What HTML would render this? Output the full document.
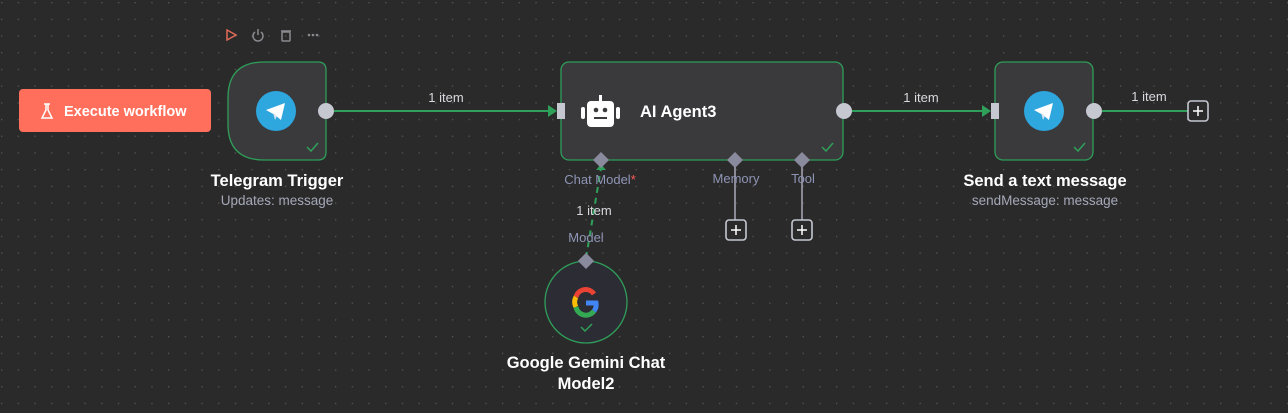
<!DOCTYPE html>
<html><head><meta charset="utf-8"><style>
html,body{margin:0;padding:0;background:#2a2a2a;width:1288px;height:413px;overflow:hidden}
svg{display:block;font-family:"Liberation Sans",sans-serif}
</style></head><body>
<svg width="1288" height="413" viewBox="0 0 1288 413" xmlns="http://www.w3.org/2000/svg">
<defs>
<pattern id="dots" x="1" y="2" width="16.7" height="16.7" patternUnits="userSpaceOnUse">
<rect x="0" y="0" width="1.3" height="1.3" fill="#555"/>
</pattern>
<g id="tg">
<circle cx="0" cy="0" r="20" fill="#2ea6de"/>
<path d="M-10,-1 L9,-8 L5,9 L-1,4 Z" fill="#fff"/>
<path d="M-3,2 L-1,9 L1,5 Z" fill="#d5e3ee"/>
</g>
</defs>
<rect width="1288" height="413" fill="#2a2a2a"/>
<rect width="1288" height="413" fill="url(#dots)"/>

<!-- toolbar -->
<path d="M227,30 L236,35 L227,40 Z" fill="none" stroke="#e06a58" stroke-width="1.5"/>
<g stroke="#8a8a90" stroke-width="1.5" fill="none">
<path d="M255,32 A5,5 0 1 0 261,32"/><line x1="258" y1="29" x2="258" y2="35"/>
<rect x="282" y="32" width="8" height="9" rx="1"/><line x1="281" y1="31" x2="291" y2="31"/>
</g>
<g fill="#8a8a90"><circle cx="309" cy="35" r="1.3"/><circle cx="313" cy="35" r="1.3"/><circle cx="317" cy="35" r="1.3"/></g>

<!-- execute button -->
<rect x="19" y="89" width="192" height="43" rx="4" fill="#ff6f5c"/>
<path d="M46,104 L46,110 L42,118 L52,118 L48,110 L48,104 M44,104 L50,104" fill="none" stroke="#fff" stroke-width="1.5"/>
<text x="64" y="116" fill="#fff" font-size="14.5" font-weight="bold">Execute workflow</text>

<!-- connections -->
<g stroke="#2fa05a" stroke-width="2" fill="none">
<line x1="334" y1="111" x2="550" y2="111"/>
<line x1="852" y1="111" x2="984" y2="111"/>
<line x1="1102" y1="111" x2="1188" y2="111"/>
<path d="M586,258 L601,168" stroke-dasharray="6,5"/>
</g>
<path d="M548,105 L557,111 L548,117 Z" fill="#2fa05a"/>
<path d="M982,105 L991,111 L982,117 Z" fill="#2fa05a"/>
<path d="M596,170 L601,164 L606,170 Z" fill="#2fa05a"/>
<g fill="#d8d8de" font-size="13" text-anchor="middle">
<text x="446" y="102">1 item</text>
<text x="921" y="102">1 item</text>
<text x="1149" y="101">1 item</text>
<text x="594" y="215">1 item</text>
</g>

<!-- Telegram trigger -->
<path d="M264,62 L318,62 Q326,62 326,70 L326,152 Q326,160 318,160 L264,160 Q228,160 228,124 L228,98 Q228,62 264,62 Z" fill="#3a3a3c" stroke="#2f9e5a" stroke-width="1.3"/>
<use href="#tg" x="276" y="111"/>
<path d="M307,147 L311,151 L318,143" stroke="#2fa05a" stroke-width="1.5" fill="none"/>
<circle cx="326" cy="111" r="8" fill="#c5c7d1"/>
<text x="277" y="186" fill="#fff" font-size="16.5" font-weight="bold" text-anchor="middle">Telegram Trigger</text>
<text x="277" y="205" fill="#a5a8b8" font-size="13.5" text-anchor="middle">Updates: message</text>

<!-- AI agent -->
<rect x="561" y="62" width="282" height="98" rx="8" fill="#3a3a3c" stroke="#2f9e5a" stroke-width="1.3"/>
<rect x="557" y="103" width="8" height="16" fill="#c5c7d1"/>
<circle cx="844" cy="111" r="8" fill="#c5c7d1"/>
<g fill="#fff">
<rect x="587" y="101" width="27" height="26" rx="4"/>
<rect x="581" y="107" width="4" height="12" rx="2"/>
<rect x="616" y="107" width="4" height="12" rx="2"/>
<rect x="599" y="95" width="3" height="6"/>
</g>
<g fill="#3a3a3c"><circle cx="596" cy="110" r="2.3"/><circle cx="605" cy="110" r="2.3"/><rect x="594" y="117" width="13" height="2"/></g>
<text x="640" y="117" fill="#fff" font-size="16.5" font-weight="bold">AI Agent3</text>
<path d="M822,147 L826,151 L833,143" stroke="#2fa05a" stroke-width="1.5" fill="none"/>

<g stroke="#8a8a96" stroke-width="2">
<line x1="735" y1="160" x2="735" y2="220"/>
<line x1="802" y1="160" x2="802" y2="220"/>
</g>
<g fill="#8a8a9e">
<path d="M601,152 L609,160 L601,168 L593,160 Z"/>
<path d="M735,152 L743,160 L735,168 L727,160 Z"/>
<path d="M802,152 L810,160 L802,168 L794,160 Z"/>
<path d="M586,253 L594,261 L586,269 L578,261 Z"/>
</g>
<g font-size="13" fill="#8f95b5" text-anchor="middle">
<text x="600" y="184">Chat Model<tspan fill="#ff5a5a">*</tspan></text>
<text x="736" y="183">Memory</text>
<text x="803" y="183">Tool</text>
<text x="586" y="242">Model</text>
</g>
<g fill="#2a2a2a" stroke="#c5c7d1" stroke-width="1.6">
<rect x="726" y="220" width="20" height="20" rx="3"/>
<rect x="792" y="220" width="20" height="20" rx="3"/>
<rect x="1188" y="101" width="20" height="20" rx="3"/>
</g>
<g stroke="#fff" stroke-width="1.5">
<line x1="731" y1="230" x2="741" y2="230"/><line x1="736" y1="225" x2="736" y2="235"/>
<line x1="797" y1="230" x2="807" y2="230"/><line x1="802" y1="225" x2="802" y2="235"/>
<line x1="1193" y1="111" x2="1203" y2="111"/><line x1="1198" y1="106" x2="1198" y2="116"/>
</g>

<!-- Send message -->
<rect x="995" y="62" width="98" height="98" rx="8" fill="#3a3a3c" stroke="#2f9e5a" stroke-width="1.3"/>
<rect x="991" y="103" width="8" height="16" fill="#c5c7d1"/>
<use href="#tg" x="1044" y="111"/>
<path d="M1074,147 L1078,151 L1085,143" stroke="#2fa05a" stroke-width="1.5" fill="none"/>
<circle cx="1094" cy="111" r="8" fill="#c5c7d1"/>
<text x="1045" y="186" fill="#fff" font-size="16.5" font-weight="bold" text-anchor="middle">Send a text message</text>
<text x="1045" y="205" fill="#a5a8b8" font-size="13.5" text-anchor="middle">sendMessage: message</text>

<!-- Gemini -->
<circle cx="586" cy="302" r="41" fill="#2c2c34" stroke="#2f9e5a" stroke-width="1.3"/>
<g fill="none" stroke-width="5">
<path d="M594,294 A10,10 0 0 0 576,297" stroke="#ea4335"/>
<path d="M576,297 A10,10 0 0 0 576,307" stroke="#fbbc05"/>
<path d="M576,307 A10,10 0 0 0 594,311" stroke="#34a853"/>
<path d="M594,311 A10,10 0 0 0 596,303 L586,303" stroke="#4285f4"/>
</g>
<path d="M581,327 L585,331 L592,324" stroke="#2fa05a" stroke-width="1.5" fill="none"/>
<path d="M586,253 L594,261 L586,269 L578,261 Z" fill="#8a8a9e"/>
<text x="586" y="368" fill="#fff" font-size="16.5" font-weight="bold" text-anchor="middle">Google Gemini Chat</text>
<text x="586" y="389" fill="#fff" font-size="16.5" font-weight="bold" text-anchor="middle">Model2</text>
</svg>
</body></html>
